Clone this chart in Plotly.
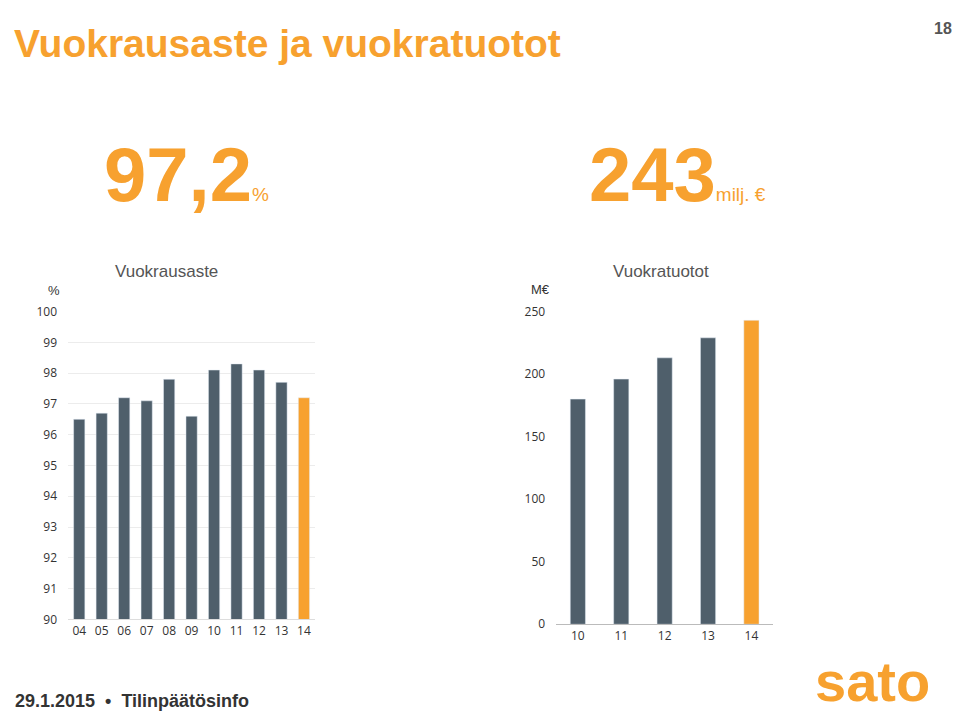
import plotly.graph_objects as go

ORANGE = '#F7A12F'
SLATE = '#4F5F6B'

occ_years = ['04', '05', '06', '07', '08', '09', '10', '11', '12', '13', '14']
occ_values = [96.5, 96.7, 97.2, 97.1, 97.8, 96.6, 98.1, 98.3, 98.1, 97.7, 97.2]
rent_years = ['10', '11', '12', '13', '14']
rent_values = [180, 196, 213, 229, 243]

fig = go.Figure()
fig.add_trace(go.Bar(x=occ_years, y=occ_values,
                     marker_color=[SLATE] * 10 + [ORANGE], width=0.5,
                     xaxis='x', yaxis='y', showlegend=False))
fig.add_trace(go.Bar(x=rent_years, y=rent_values,
                     marker_color=[SLATE] * 4 + [ORANGE], width=0.35,
                     xaxis='x2', yaxis='y2', showlegend=False))

tick_font = dict(family='Open Sans', size=12, color='#333')
fig.update_layout(
    width=960, height=715, margin=dict(l=0, r=0, t=0, b=0),
    plot_bgcolor='white', paper_bgcolor='white',
    xaxis=dict(domain=[0.0625, 0.32], showgrid=False, tickfont=tick_font,
               showline=True, linecolor='#ddd', ticks=''),
    yaxis=dict(domain=[0.137, 0.578], range=[90, 100], dtick=1,
               showgrid=True, gridcolor='#ececec', tickfont=tick_font,
               zeroline=False, ticklabelstandoff=10),
    xaxis2=dict(domain=[0.571, 0.797], showgrid=False, tickfont=tick_font,
                showline=True, linecolor='#bbb', anchor='y2'),
    yaxis2=dict(domain=[0.130, 0.578], range=[0, 250], dtick=50,
                showgrid=False, tickfont=tick_font, anchor='x2',
                zeroline=False, ticklabelstandoff=10),
)

ann = [
    dict(x=0.004, y=0.995, text='<b>Vuokrausaste ja vuokratuotot</b>', font=dict(family='Liberation Sans', size=39, color=ORANGE),
         xanchor='left', yanchor='top'),
    dict(x=0.985, y=0.998, text='<b>18</b>', font=dict(family='Liberation Sans', size=16, color='#555'),
         xanchor='right', yanchor='top'),
    dict(x=0.098, y=0.71, text='<b>97,2</b><span style="font-size:19px">%</span>',
         font=dict(family='Liberation Sans', size=76, color=ORANGE), xanchor='left', yanchor='bottom'),
    dict(x=0.603, y=0.71, text='<b>243</b><span style="font-size:19px">milj. €</span>',
         font=dict(family='Liberation Sans', size=76, color=ORANGE), xanchor='left', yanchor='bottom'),
    dict(x=0.165, y=0.635, text='Vuokrausaste', font=dict(family='Liberation Sans', size=17, color='#555'),
         xanchor='center', yanchor='middle'),
    dict(x=0.68, y=0.635, text='Vuokratuotot', font=dict(family='Liberation Sans', size=17, color='#555'),
         xanchor='center', yanchor='middle'),
    dict(x=0.048, y=0.595, text='%', font=dict(family='Liberation Sans', size=13, color='#333'),
         xanchor='center', yanchor='bottom'),
    dict(x=0.555, y=0.61, text='M€', font=dict(family='Liberation Sans', size=13, color='#333'),
         xanchor='center', yanchor='middle'),
    dict(x=0.005, y=0.003, text='<b>29.1.2015  •  Tilinpäätösinfo</b>',
         font=dict(family='Liberation Sans', size=18, color='#333'), xanchor='left', yanchor='bottom'),
    dict(x=0.962, y=0.0, text='<b>sato</b>', font=dict(family='Liberation Sans', size=56, color=ORANGE),
         xanchor='right', yanchor='bottom'),
]
for a in ann:
    a.update(xref='paper', yref='paper', showarrow=False)
fig.update_layout(annotations=ann)

fig.write_html('out.html')
